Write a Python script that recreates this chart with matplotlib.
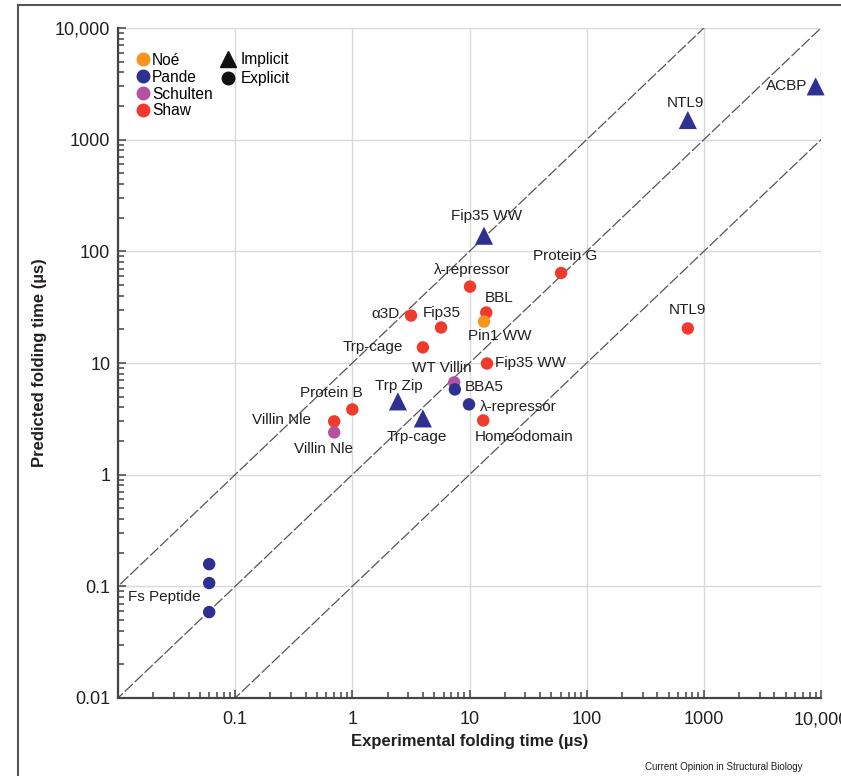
import numpy as np
import matplotlib
matplotlib.use("Agg")
import matplotlib.pyplot as plt
from matplotlib.lines import Line2D
from matplotlib.ticker import FixedLocator, LogLocator, NullFormatter

plt.rcParams['font.family'] = ['Liberation Sans', 'DejaVu Sans']

# ---- data: (experimental, predicted) folding times in microseconds ----
names = ["NTL9", "ACBP", "Fip35 WW", "Trp Zip", "Trp-cage",
         "Protein G", "\u03bb-repressor", "BBL", "\u03b13D", "Fip35", "Trp-cage",
         "Fip35 WW", "Homeodomain", "Protein B", "Villin Nle", "NTL9",
         "Pin1 WW",
         "WT Villin", "Villin Nle",
         "BBA5", "\u03bb-repressor", "Fs Peptide", "", ""]
exp_time = [730, 9000, 13.3, 2.45, 4.0,
            60.5, 10.1, 13.9, 3.17, 5.72, 4.0,
            14.1, 13.1, 1.0, 0.70, 730,
            13.3,
            7.4, 0.70,
            7.5, 9.9, 0.06, 0.06, 0.06]
pred_time = [1500, 3000, 138, 4.53, 3.19,
             64, 48.3, 28.3, 26.6, 20.8, 13.8,
             9.9, 3.06, 3.84, 3.0, 20.4,
             23.5,
             6.7, 2.39,
             5.8, 4.26, 0.107, 0.158, 0.0588]
group = ["Pande"] * 5 + ["Shaw"] * 11 + ["No\u00e9"] + ["Schulten"] * 2 + ["Pande"] * 5
solvent = ["Implicit"] * 5 + ["Explicit"] * 19

group_names = ["No\u00e9", "Pande", "Schulten", "Shaw"]
group_colors = {"No\u00e9": "#F7941D", "Pande": "#2E3192",
                "Schulten": "#B5529F", "Shaw": "#EF3B2C"}

# label placement: (dx, dy) in pixels from marker, horizontal alignment
label_layout = [(-2, 17, "center"), (-8, 0, "right"), (2, 20, "center"), (1, 15, "center"), (-6, -19, "center"),
                (4, 17, "center"), (2, 17, "center"), (13, 15, "center"), (-11, 2, "right"), (1, 14, "center"),
                (-20, 0, "right"),
                (8, 0, "left"), (-8, -17, "left"), (-21, 16, "center"), (-23, 1, "right"), (0, 18, "center"),
                (16, -14, "center"),
                (-12, 14, "center"), (-11, -17, "center"),
                (10, 2, "left"), (11, -3, "left"), (-9, -14, "right"), (0, 0, "center"), (0, 0, "center")]

major = [0.01, 0.1, 1, 10, 100, 1000, 10000]
y_labels = ["0.01", "0.1", "1", "10", "100", "1000", "10,000"]
x_labels = ["", "0.1", "1", "10", "100", "1000", "10,000"]

fig = plt.figure(figsize=(8.41, 7.76), dpi=100)
ax = fig.add_axes([118 / 841, 78 / 776, 703 / 841, 670 / 776])
ax.set_xscale("log")
ax.set_yscale("log")
ax.set_xlim(0.01, 10000)
ax.set_ylim(0.01, 10000)

# diagonal guide lines
guide = np.array([1e-3, 1e5])
for f in [10, 1, 0.1]:
    ax.plot(guide, guide * f, color="#555555", lw=0.9, dashes=(9, 2), zorder=2)

for i in range(len(names)):
    m = "^" if solvent[i] == "Implicit" else "o"
    s = 170 if m == "^" else 80
    ax.scatter(exp_time[i], pred_time[i], marker=m, s=s, color=group_colors[group[i]],
               edgecolors="none", zorder=4, clip_on=False)
    if names[i]:
        dx, dy, ha = label_layout[i]
        ax.annotate(names[i], (exp_time[i], pred_time[i]), xytext=(dx, dy),
                    textcoords="offset pixels", ha=ha, va="center",
                    fontsize=11, color="#231F20", zorder=5)

# axes styling
for a in (ax.xaxis, ax.yaxis):
    a.set_major_locator(FixedLocator(major))
    a.set_minor_locator(LogLocator(base=10, subs=np.arange(2, 10)))
    a.set_minor_formatter(NullFormatter())
ax.set_xticklabels(x_labels)
ax.set_yticklabels(y_labels)
ax.tick_params(which="both", direction="in", color="#444444", width=1.1,
               labelsize=13, labelcolor="#231F20")
ax.tick_params(which="major", length=6)
ax.tick_params(axis="y", which="major", pad=5.5)
ax.tick_params(axis="x", which="major", pad=9.5)
ax.tick_params(which="minor", length=4)
ax.grid(True, which="major", color="#D9D9D9", lw=1.0, zorder=0)
ax.set_axisbelow(True)
for side in ["top", "right"]:
    ax.spines[side].set_visible(False)
for side in ["left", "bottom"]:
    ax.spines[side].set_color("#444444")
    ax.spines[side].set_linewidth(1.6)

ax.set_xlabel("Experimental folding time (\u00b5s)", fontsize=12, fontweight="bold",
              color="#231F20", labelpad=4)
ax.set_ylabel("Predicted folding time (\u00b5s)", fontsize=12, fontweight="bold",
              color="#231F20", labelpad=6)

# legends
h_groups = [Line2D([], [], marker="o", ls="", color=group_colors[g], markersize=9)
            for g in group_names]
leg1 = ax.legend(h_groups, group_names, loc="upper left", bbox_to_anchor=(0.026, 0.963),
                 frameon=False, fontsize=11.2, handlelength=0.8, handletextpad=0.2,
                 labelspacing=0.12, borderpad=0, borderaxespad=0)
ax.add_artist(leg1)
h_solv = [Line2D([], [], marker="^", ls="", color="#111111", markersize=12),
          Line2D([], [], marker="o", ls="", color="#111111", markersize=9)]
ax.legend(h_solv, ["Implicit", "Explicit"], loc="upper left", bbox_to_anchor=(0.146, 0.964),
          frameon=False, fontsize=11.2, handlelength=1.0, handletextpad=0.3,
          labelspacing=0.28, borderpad=0, borderaxespad=0)

# outer frame and credit
fig.add_artist(Line2D([18 / 841, 18 / 841], [0, 1 - 5 / 776], transform=fig.transFigure,
                      color="#555555", lw=1.5))
fig.add_artist(Line2D([18 / 841, 1], [1 - 5 / 776, 1 - 5 / 776], transform=fig.transFigure,
                      color="#555555", lw=1.5))
fig.text(645 / 841, 1 - 767 / 776, "Current Opinion in Structural Biology", fontsize=7,
         color="#231F20", ha="left", va="center")

fig.savefig("out.png", dpi=100)
